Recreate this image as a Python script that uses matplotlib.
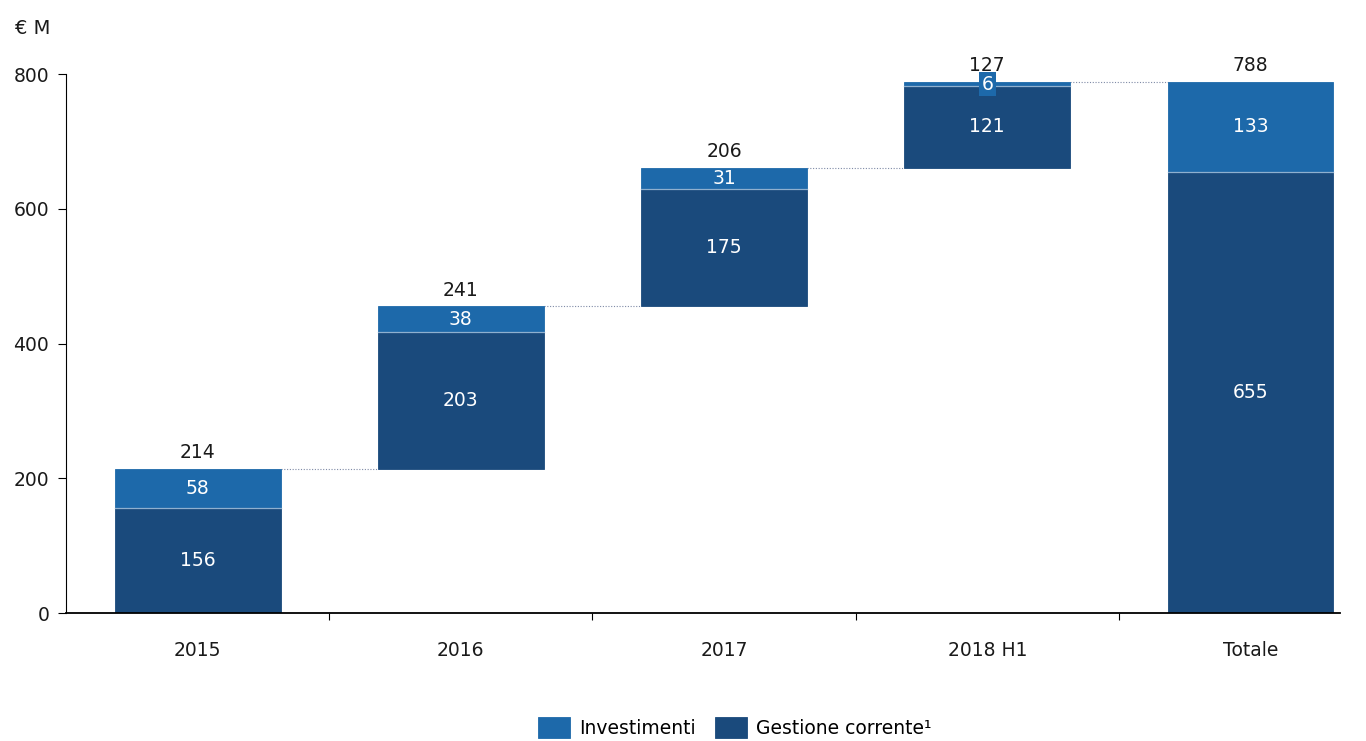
import matplotlib
matplotlib.use("Agg")
import matplotlib.pyplot as plt
import numpy as np

categories = ["2015", "2016", "2017", "2018 H1", "Totale"]
gestione = [156, 203, 175, 121, 655]
investimenti = [58, 38, 31, 6, 133]
totals = [214, 241, 206, 127, 788]
yticks = [0, 200, 400, 600, 800]

col_inv = "#1d69aa"
col_ges = "#1a4a7c"

plt.rcParams["font.family"] = ["DejaVu Sans"]

fig = plt.figure(figsize=(13.66, 7.41), dpi=100)
ax = fig.add_axes([0.0483, 0.1727, 0.9327, 0.7274])

x = np.arange(len(categories))
# waterfall bases: each year starts where the previous ended, total starts at 0
bases = []
running = 0
for i in range(len(categories)):
    if categories[i] == "Totale":
        bases.append(0)
    else:
        bases.append(running)
        running += gestione[i] + investimenti[i]

width = 0.63
ax.bar(x, gestione, width, bottom=bases, color=col_ges, edgecolor=col_ges,
       linewidth=0.6, label="Gestione corrente\u00b9", zorder=2)
tops_g = [b + g for b, g in zip(bases, gestione)]
ax.bar(x, investimenti, width, bottom=tops_g, color=col_inv, edgecolor=col_inv,
       linewidth=0.6, label="Investimenti", zorder=2)
# light separator between the two segments
for xi, t in zip(x, tops_g):
    ax.plot([xi - width / 2, xi + width / 2], [t, t], color="#8fb0cf",
            linewidth=0.9, zorder=3)

# connectors between bars
for i in range(len(categories) - 1):
    level = bases[i] + gestione[i] + investimenti[i]
    ax.plot([x[i] + width / 2, x[i + 1] - width / 2], [level, level],
            color="#7f8aa6", linestyle=(0, (1, 1.5)), linewidth=0.8, zorder=1)

# labels
for i in range(len(categories)):
    top = bases[i] + gestione[i] + investimenti[i]
    ax.text(x[i], top + 10, str(totals[i]), ha="center", va="bottom",
            fontsize=13.5, color="#1a1a1a")
    ax.text(x[i], bases[i] + gestione[i] / 2, str(gestione[i]), ha="center",
            va="center", fontsize=13.5, color="white", zorder=4)
    if investimenti[i] >= 20:
        ax.text(x[i], tops_g[i] + investimenti[i] / 2, str(investimenti[i]),
                ha="center", va="center", fontsize=13.5, color="white", zorder=4)
    else:
        ax.text(x[i], tops_g[i] + investimenti[i] / 2, str(investimenti[i]),
                ha="center", va="center", fontsize=13.5, color="white", zorder=4,
                bbox=dict(boxstyle="square,pad=0.15", facecolor=col_inv,
                          edgecolor="none"))

ax.set_yticks(yticks)
ax.set_yticklabels([str(v) for v in yticks], fontsize=13.5, color="#1a1a1a")
ax.tick_params(axis="y", length=6, width=0.8, pad=6)

# tick marks at the category boundaries, category names placed as text
ax.set_xticks(x[:-1] + 0.5)
ax.set_xticklabels([])
ax.tick_params(axis="x", length=5, width=0.8, direction="out")
for xi, c in zip(x, categories):
    ax.text(xi, -42, c, ha="center", va="top", fontsize=13.5, color="#1a1a1a")

ax.set_xlim(-0.5, 4.34)
ax.set_ylim(0, 800)

for s in ["top", "right"]:
    ax.spines[s].set_visible(False)
ax.spines["left"].set_linewidth(0.8)
ax.spines["bottom"].set_linewidth(1.3)

fig.text(0.011, 0.962, "€ M", fontsize=14, ha="left", va="center", color="#1a1a1a")

handles, labels = ax.get_legend_handles_labels()
fig.legend(handles[::-1], labels[::-1], loc="center", bbox_to_anchor=(0.538, 0.018),
           ncol=2, frameon=False, fontsize=13.5, handlelength=1.7, handleheight=1.4,
           columnspacing=1.0, handletextpad=0.5)

fig.savefig("out.png", dpi=100)
